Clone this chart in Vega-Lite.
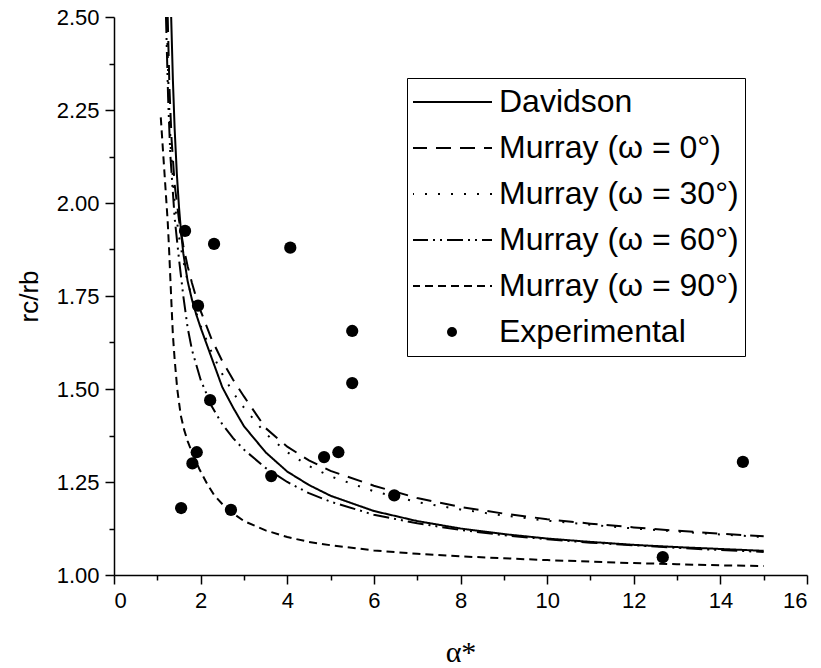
{
  "$schema": "https://vega.github.io/schema/vega-lite/v6.json",
  "width": 693,
  "height": 558,
  "autosize": {"type": "none"},
  "padding": {"left": 114, "top": 17, "right": 14, "bottom": 93},
  "background": "white",
  "config": {
    "view": {"stroke": null},
    "axis": {
      "domainColor": "black", "tickColor": "black", "labelColor": "black", "titleColor": "black",
      "labelFont": "Liberation Sans", "titleFont": "Liberation Sans", "grid": false,
      "domainWidth": 1.5, "tickWidth": 1.5
    },
    "legend": {
      "orient": "none", "legendX": 293, "legendY": 61, "padding": 6,
      "strokeColor": "black", "strokeWidth": 1, "fillColor": "white",
      "labelFont": "Liberation Sans", "labelFontSize": 32, "labelColor": "black",
      "rowPadding": 10, "labelOffset": 31, "symbolOffset": 23, "symbolSize": 100,
      "symbolStrokeColor": "black"
    }
  },
  "datasets": {
    "curves": [
      {"a": 1.32, "r": 2.5, "s": "Davidson"},
      {"a": 1.36, "r": 2.33, "s": "Davidson"},
      {"a": 1.4, "r": 2.2, "s": "Davidson"},
      {"a": 1.45, "r": 2.08, "s": "Davidson"},
      {"a": 1.5, "r": 1.99, "s": "Davidson"},
      {"a": 1.55, "r": 1.92, "s": "Davidson"},
      {"a": 1.6, "r": 1.865, "s": "Davidson"},
      {"a": 1.7, "r": 1.79, "s": "Davidson"},
      {"a": 1.8, "r": 1.74, "s": "Davidson"},
      {"a": 1.9, "r": 1.7, "s": "Davidson"},
      {"a": 2.0, "r": 1.665, "s": "Davidson"},
      {"a": 2.25, "r": 1.585, "s": "Davidson"},
      {"a": 2.5, "r": 1.505, "s": "Davidson"},
      {"a": 2.75, "r": 1.45, "s": "Davidson"},
      {"a": 3.0, "r": 1.4, "s": "Davidson"},
      {"a": 3.5, "r": 1.33, "s": "Davidson"},
      {"a": 4.0, "r": 1.278, "s": "Davidson"},
      {"a": 4.5, "r": 1.242, "s": "Davidson"},
      {"a": 5.0, "r": 1.213, "s": "Davidson"},
      {"a": 6.0, "r": 1.172, "s": "Davidson"},
      {"a": 7.0, "r": 1.145, "s": "Davidson"},
      {"a": 8.0, "r": 1.125, "s": "Davidson"},
      {"a": 9.0, "r": 1.11, "s": "Davidson"},
      {"a": 10.0, "r": 1.098, "s": "Davidson"},
      {"a": 11.0, "r": 1.089, "s": "Davidson"},
      {"a": 12.0, "r": 1.081, "s": "Davidson"},
      {"a": 13.0, "r": 1.075, "s": "Davidson"},
      {"a": 14.0, "r": 1.07, "s": "Davidson"},
      {"a": 15.0, "r": 1.065, "s": "Davidson"},

      {"a": 1.24, "r": 2.5, "s": "Murray (ω = 0°)"},
      {"a": 1.28, "r": 2.31, "s": "Murray (ω = 0°)"},
      {"a": 1.33, "r": 2.17, "s": "Murray (ω = 0°)"},
      {"a": 1.4, "r": 2.05, "s": "Murray (ω = 0°)"},
      {"a": 1.5, "r": 1.955, "s": "Murray (ω = 0°)"},
      {"a": 1.6, "r": 1.885, "s": "Murray (ω = 0°)"},
      {"a": 1.7, "r": 1.83, "s": "Murray (ω = 0°)"},
      {"a": 1.8, "r": 1.785, "s": "Murray (ω = 0°)"},
      {"a": 1.9, "r": 1.745, "s": "Murray (ω = 0°)"},
      {"a": 2.0, "r": 1.71, "s": "Murray (ω = 0°)"},
      {"a": 2.25, "r": 1.635, "s": "Murray (ω = 0°)"},
      {"a": 2.5, "r": 1.575, "s": "Murray (ω = 0°)"},
      {"a": 2.75, "r": 1.525, "s": "Murray (ω = 0°)"},
      {"a": 3.0, "r": 1.48, "s": "Murray (ω = 0°)"},
      {"a": 3.5, "r": 1.395, "s": "Murray (ω = 0°)"},
      {"a": 4.0, "r": 1.345, "s": "Murray (ω = 0°)"},
      {"a": 4.5, "r": 1.308, "s": "Murray (ω = 0°)"},
      {"a": 5.0, "r": 1.28, "s": "Murray (ω = 0°)"},
      {"a": 6.0, "r": 1.24, "s": "Murray (ω = 0°)"},
      {"a": 7.0, "r": 1.207, "s": "Murray (ω = 0°)"},
      {"a": 8.0, "r": 1.183, "s": "Murray (ω = 0°)"},
      {"a": 9.0, "r": 1.165, "s": "Murray (ω = 0°)"},
      {"a": 10.0, "r": 1.15, "s": "Murray (ω = 0°)"},
      {"a": 11.0, "r": 1.138, "s": "Murray (ω = 0°)"},
      {"a": 12.0, "r": 1.128, "s": "Murray (ω = 0°)"},
      {"a": 13.0, "r": 1.119, "s": "Murray (ω = 0°)"},
      {"a": 14.0, "r": 1.111, "s": "Murray (ω = 0°)"},
      {"a": 15.0, "r": 1.104, "s": "Murray (ω = 0°)"},

      {"a": 1.22, "r": 2.5, "s": "Murray (ω = 30°)"},
      {"a": 1.26, "r": 2.3, "s": "Murray (ω = 30°)"},
      {"a": 1.31, "r": 2.15, "s": "Murray (ω = 30°)"},
      {"a": 1.4, "r": 2.0, "s": "Murray (ω = 30°)"},
      {"a": 1.5, "r": 1.91, "s": "Murray (ω = 30°)"},
      {"a": 1.6, "r": 1.845, "s": "Murray (ω = 30°)"},
      {"a": 1.7, "r": 1.79, "s": "Murray (ω = 30°)"},
      {"a": 1.8, "r": 1.745, "s": "Murray (ω = 30°)"},
      {"a": 1.9, "r": 1.705, "s": "Murray (ω = 30°)"},
      {"a": 2.0, "r": 1.67, "s": "Murray (ω = 30°)"},
      {"a": 2.25, "r": 1.6, "s": "Murray (ω = 30°)"},
      {"a": 2.5, "r": 1.54, "s": "Murray (ω = 30°)"},
      {"a": 2.75, "r": 1.49, "s": "Murray (ω = 30°)"},
      {"a": 3.0, "r": 1.45, "s": "Murray (ω = 30°)"},
      {"a": 3.5, "r": 1.38, "s": "Murray (ω = 30°)"},
      {"a": 4.0, "r": 1.33, "s": "Murray (ω = 30°)"},
      {"a": 4.5, "r": 1.293, "s": "Murray (ω = 30°)"},
      {"a": 5.0, "r": 1.265, "s": "Murray (ω = 30°)"},
      {"a": 6.0, "r": 1.225, "s": "Murray (ω = 30°)"},
      {"a": 7.0, "r": 1.196, "s": "Murray (ω = 30°)"},
      {"a": 8.0, "r": 1.176, "s": "Murray (ω = 30°)"},
      {"a": 9.0, "r": 1.16, "s": "Murray (ω = 30°)"},
      {"a": 10.0, "r": 1.146, "s": "Murray (ω = 30°)"},
      {"a": 11.0, "r": 1.135, "s": "Murray (ω = 30°)"},
      {"a": 12.0, "r": 1.125, "s": "Murray (ω = 30°)"},
      {"a": 13.0, "r": 1.117, "s": "Murray (ω = 30°)"},
      {"a": 14.0, "r": 1.109, "s": "Murray (ω = 30°)"},
      {"a": 15.0, "r": 1.102, "s": "Murray (ω = 30°)"},

      {"a": 1.2, "r": 2.5, "s": "Murray (ω = 60°)"},
      {"a": 1.25, "r": 2.28, "s": "Murray (ω = 60°)"},
      {"a": 1.3, "r": 2.13, "s": "Murray (ω = 60°)"},
      {"a": 1.4, "r": 1.96, "s": "Murray (ω = 60°)"},
      {"a": 1.5, "r": 1.85, "s": "Murray (ω = 60°)"},
      {"a": 1.6, "r": 1.75, "s": "Murray (ω = 60°)"},
      {"a": 1.7, "r": 1.665, "s": "Murray (ω = 60°)"},
      {"a": 1.8, "r": 1.605, "s": "Murray (ω = 60°)"},
      {"a": 2.0, "r": 1.525, "s": "Murray (ω = 60°)"},
      {"a": 2.25, "r": 1.455, "s": "Murray (ω = 60°)"},
      {"a": 2.5, "r": 1.405, "s": "Murray (ω = 60°)"},
      {"a": 2.75, "r": 1.368, "s": "Murray (ω = 60°)"},
      {"a": 3.0, "r": 1.337, "s": "Murray (ω = 60°)"},
      {"a": 3.5, "r": 1.288, "s": "Murray (ω = 60°)"},
      {"a": 4.0, "r": 1.25, "s": "Murray (ω = 60°)"},
      {"a": 4.5, "r": 1.22, "s": "Murray (ω = 60°)"},
      {"a": 5.0, "r": 1.197, "s": "Murray (ω = 60°)"},
      {"a": 6.0, "r": 1.162, "s": "Murray (ω = 60°)"},
      {"a": 7.0, "r": 1.139, "s": "Murray (ω = 60°)"},
      {"a": 8.0, "r": 1.121, "s": "Murray (ω = 60°)"},
      {"a": 9.0, "r": 1.107, "s": "Murray (ω = 60°)"},
      {"a": 10.0, "r": 1.096, "s": "Murray (ω = 60°)"},
      {"a": 11.0, "r": 1.087, "s": "Murray (ω = 60°)"},
      {"a": 12.0, "r": 1.08, "s": "Murray (ω = 60°)"},
      {"a": 13.0, "r": 1.073, "s": "Murray (ω = 60°)"},
      {"a": 14.0, "r": 1.067, "s": "Murray (ω = 60°)"},
      {"a": 15.0, "r": 1.062, "s": "Murray (ω = 60°)"},

      {"a": 1.08, "r": 2.23, "s": "Murray (ω = 90°)"},
      {"a": 1.12, "r": 2.16, "s": "Murray (ω = 90°)"},
      {"a": 1.16, "r": 2.09, "s": "Murray (ω = 90°)"},
      {"a": 1.2, "r": 2.02, "s": "Murray (ω = 90°)"},
      {"a": 1.24, "r": 1.95, "s": "Murray (ω = 90°)"},
      {"a": 1.27, "r": 1.88, "s": "Murray (ω = 90°)"},
      {"a": 1.3, "r": 1.8, "s": "Murray (ω = 90°)"},
      {"a": 1.33, "r": 1.72, "s": "Murray (ω = 90°)"},
      {"a": 1.36, "r": 1.645, "s": "Murray (ω = 90°)"},
      {"a": 1.4, "r": 1.58, "s": "Murray (ω = 90°)"},
      {"a": 1.46, "r": 1.5, "s": "Murray (ω = 90°)"},
      {"a": 1.54, "r": 1.43, "s": "Murray (ω = 90°)"},
      {"a": 1.62, "r": 1.39, "s": "Murray (ω = 90°)"},
      {"a": 1.7, "r": 1.36, "s": "Murray (ω = 90°)"},
      {"a": 1.8, "r": 1.33, "s": "Murray (ω = 90°)"},
      {"a": 1.97, "r": 1.285, "s": "Murray (ω = 90°)"},
      {"a": 2.15, "r": 1.245, "s": "Murray (ω = 90°)"},
      {"a": 2.31, "r": 1.215, "s": "Murray (ω = 90°)"},
      {"a": 2.6, "r": 1.178, "s": "Murray (ω = 90°)"},
      {"a": 3.0, "r": 1.145, "s": "Murray (ω = 90°)"},
      {"a": 3.5, "r": 1.12, "s": "Murray (ω = 90°)"},
      {"a": 4.0, "r": 1.102, "s": "Murray (ω = 90°)"},
      {"a": 4.5, "r": 1.089, "s": "Murray (ω = 90°)"},
      {"a": 5.0, "r": 1.08, "s": "Murray (ω = 90°)"},
      {"a": 6.0, "r": 1.066, "s": "Murray (ω = 90°)"},
      {"a": 7.0, "r": 1.057, "s": "Murray (ω = 90°)"},
      {"a": 8.0, "r": 1.05, "s": "Murray (ω = 90°)"},
      {"a": 9.0, "r": 1.045, "s": "Murray (ω = 90°)"},
      {"a": 10.0, "r": 1.04, "s": "Murray (ω = 90°)"},
      {"a": 11.0, "r": 1.036, "s": "Murray (ω = 90°)"},
      {"a": 12.0, "r": 1.032, "s": "Murray (ω = 90°)"},
      {"a": 13.0, "r": 1.029, "s": "Murray (ω = 90°)"},
      {"a": 14.0, "r": 1.026, "s": "Murray (ω = 90°)"},
      {"a": 15.0, "r": 1.024, "s": "Murray (ω = 90°)"}
    ],
    "exp": [
      {"a": 1.55, "r": 1.18, "s": "Experimental"},
      {"a": 1.64, "r": 1.925, "s": "Experimental"},
      {"a": 1.81, "r": 1.3, "s": "Experimental"},
      {"a": 1.91, "r": 1.33, "s": "Experimental"},
      {"a": 1.94, "r": 1.724, "s": "Experimental"},
      {"a": 2.22, "r": 1.47, "s": "Experimental"},
      {"a": 2.31, "r": 1.89, "s": "Experimental"},
      {"a": 2.7, "r": 1.175, "s": "Experimental"},
      {"a": 3.63, "r": 1.266, "s": "Experimental"},
      {"a": 4.07, "r": 1.88, "s": "Experimental"},
      {"a": 4.85, "r": 1.317, "s": "Experimental"},
      {"a": 5.18, "r": 1.33, "s": "Experimental"},
      {"a": 5.5, "r": 1.656, "s": "Experimental"},
      {"a": 5.5, "r": 1.516, "s": "Experimental"},
      {"a": 6.47, "r": 1.214, "s": "Experimental"},
      {"a": 12.67, "r": 1.048, "s": "Experimental"},
      {"a": 14.52, "r": 1.304, "s": "Experimental"}
    ]
  },
  "layer": [
    {
      "data": {"name": "curves"},
      "mark": {"type": "line", "color": "black", "strokeWidth": 2},
      "encoding": {
        "x": {
          "field": "a", "type": "quantitative",
          "scale": {"domain": [0, 16], "nice": false},
          "axis": {
            "orient": "bottom", "values": [0, 2, 4, 6, 8, 10, 12, 14, 16], "tickSize": 9,
            "labelFontSize": 22, "labelPadding": 6, "title": "α*",
            "titleFont": "Liberation Serif", "titleFontSize": 30, "titleFontWeight": "normal", "titlePadding": 26
          }
        },
        "y": {
          "field": "r", "type": "quantitative",
          "scale": {"domain": [1, 2.5], "nice": false, "zero": false},
          "axis": {
            "orient": "left", "values": [1, 1.25, 1.5, 1.75, 2, 2.25, 2.5], "format": ".2f", "tickSize": 9,
            "labelFontSize": 22, "labelPadding": 6, "title": "rc/rb",
            "titleFontSize": 26, "titleFontWeight": "normal", "titlePadding": 14
          }
        },
        "strokeDash": {
          "field": "s", "type": "nominal",
          "scale": {
            "domain": ["Davidson", "Murray (ω = 0°)", "Murray (ω = 30°)", "Murray (ω = 60°)", "Murray (ω = 90°)", "Experimental"],
            "range": [[1, 0], [15, 9], [2, 11], [16, 5, 2, 5, 2, 5], [8, 5], [1, 0]]
          },
          "legend": {
            "title": null, "labelLimit": 400, "clipHeight": 36,
            "encode": {"symbols": {"update": {"fill": {"value": "black"}, "stroke": {"value": "black"}, "strokeWidth": {"signal": "datum.value === 'Experimental' ? 0 : 2"}, "opacity": {"value": 1}}}}
          }
        }
      }
    },
    {
      "data": {"name": "exp"},
      "mark": {"type": "point", "filled": true, "color": "black", "opacity": 1, "strokeWidth": 0, "size": 150},
      "encoding": {
        "x": {
          "field": "a", "type": "quantitative",
          "scale": {"domain": [0, 16], "nice": false},
          "axis": {"orient": "bottom", "values": [1, 3, 5, 7, 9, 11, 13, 15], "tickSize": 5, "labels": false, "domain": false, "title": null}
        },
        "y": {
          "field": "r", "type": "quantitative",
          "scale": {"domain": [1, 2.5], "nice": false, "zero": false},
          "axis": {"orient": "left", "values": [1.125, 1.375, 1.625, 1.875, 2.125, 2.375], "tickSize": 5, "labels": false, "domain": false, "title": null}
        },
        "shape": {
          "field": "s", "type": "nominal",
          "scale": {
            "domain": ["Davidson", "Murray (ω = 0°)", "Murray (ω = 30°)", "Murray (ω = 60°)", "Murray (ω = 90°)", "Experimental"],
            "range": ["M-8,0H8", "M-8,0H8", "M-8,0H8", "M-8,0H8", "M-8,0H8", "circle"]
          },
          "legend": {
            "title": null, "labelLimit": 400, "clipHeight": 36,
            "encode": {"symbols": {"update": {"fill": {"value": "black"}, "stroke": {"value": "black"}, "strokeWidth": {"signal": "datum.value === 'Experimental' ? 0 : 2"}, "opacity": {"value": 1}}}}
          }
        }
      }
    }
  ],
  "resolve": {"axis": {"x": "independent", "y": "independent"}}
}
